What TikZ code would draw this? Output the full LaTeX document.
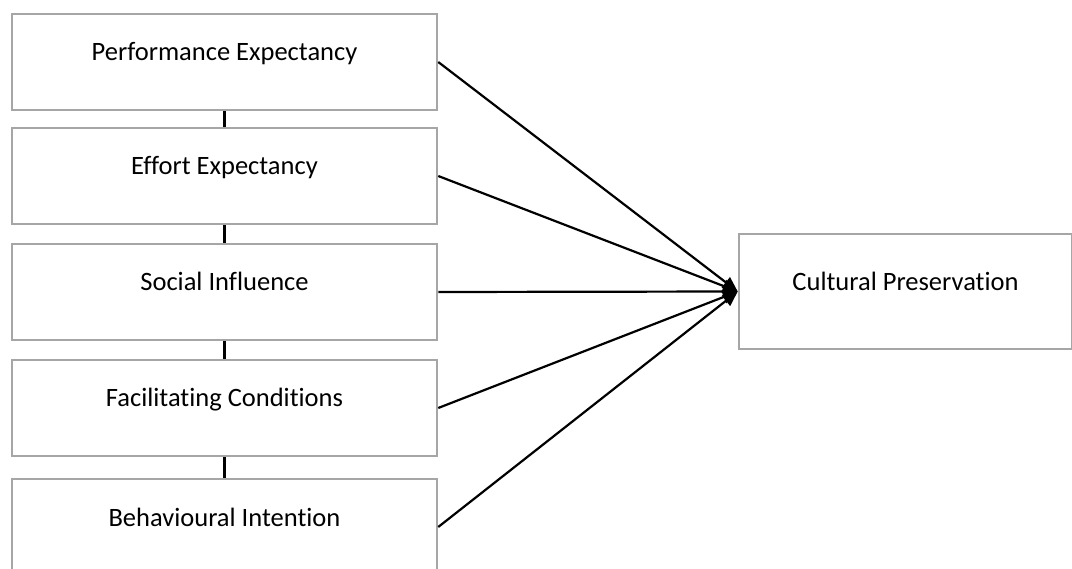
\documentclass[tikz,border=0pt]{standalone}
\usepackage{fontspec}
\setmainfont{Carlito}[Ligatures=NoCommon]
\usepackage{xcolor}
\usepackage{tikz}
\usetikzlibrary{arrows.meta}

\definecolor{boxgray}{RGB}{166,166,166}

\begin{document}
\begin{tikzpicture}
                \tikzset{x={(1pt, 0pt)}, y={(0pt, -1pt)}}
                \tikzset{
                    factor/.style={draw=boxgray, line width=2.5pt, inner sep=0pt,
                        minimum width=425pt, minimum height=96pt,
                        text height=47pt, text depth=49pt,
                        font=\fontsize{26.5}{32}\selectfont},
                    link/.style={line width=2.2pt, black},
                    effect/.style={link, -{Triangle[length=15pt, width=13pt]}}
                }
                \useasboundingbox (0, 0) rectangle (1072, 569);
                \node[factor] (pe) at (224.5,  62) {Performance Expectancy};
                \node[factor] (ee) at (224.5, 176) {Effort Expectancy};
                \node[factor] (si) at (224.5, 292) {Social Influence};
                \node[factor] (fc) at (224.5, 408) {Facilitating Conditions};
                \node[factor] (bi) at (224.5, 527) {Behavioural Intention};
                \node[factor, minimum width=333pt, minimum height=115pt,
                      text height=57pt, text depth=58pt] (cp) at (905.5, 291.5) {Cultural Preservation};
                \draw[link] (pe.south) -- (ee.north);
                \draw[link] (ee.south) -- (si.north);
                \draw[link] (si.south) -- (fc.north);
                \draw[link] (fc.south) -- (bi.north);
                \draw[effect] (pe.east) -- (cp.west);
                \draw[effect] (ee.east) -- (cp.west);
                \draw[effect] (si.east) -- (cp.west);
                \draw[effect] (fc.east) -- (cp.west);
                \draw[effect] (bi.east) -- (cp.west);
            \end{tikzpicture}
\end{document}
